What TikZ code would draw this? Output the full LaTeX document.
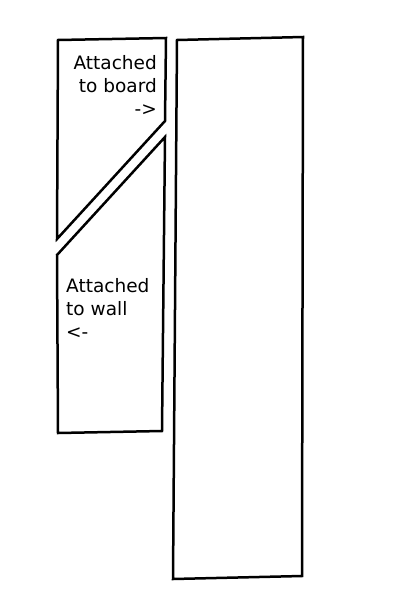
\documentclass[tikz,border=0pt]{standalone}
\usepackage{fontspec}
\setmainfont{DejaVu Sans}
\usepackage{tikz}
\usetikzlibrary{positioning}

\begin{document}
\begin{tikzpicture}[
  x=1pt, y=-1pt,
  piece/.style={draw, line width=2.5pt, line join=miter, fill=white},
  lbl/.style={font=\fontsize{18.5}{23}\selectfont, inner sep=0pt}]
\useasboundingbox (0,0) rectangle (400,600);
% upper piece, fixed to the board
\draw[piece] (58,40) -- (166,38) -- (165,121) -- (57,239) -- cycle;
% lower piece, fixed to the wall
\draw[piece] (57,255) -- (165,137) -- (162,431) -- (58,433) -- cycle;
% the board
\draw[piece] (177,40) -- (303,37) -- (302,576) -- (173,579) -- cycle;
\node[lbl, align=right, anchor=north east] (board) at (157,55) {Attached\\to board\\->};
\node[lbl, align=left, anchor=north west] (wall) at (66,278) {Attached\\to wall\\<-};
\end{tikzpicture}
\end{document}
